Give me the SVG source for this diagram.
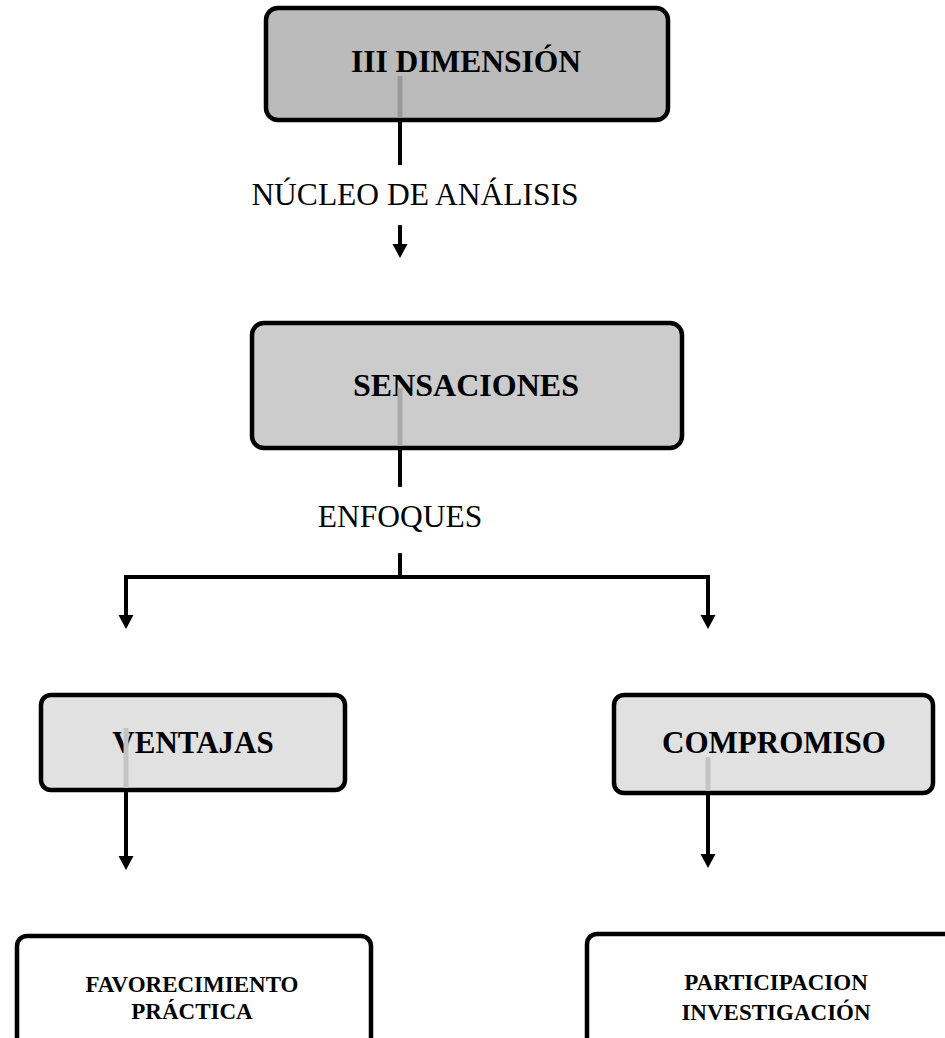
<svg xmlns="http://www.w3.org/2000/svg" width="945" height="1038" viewBox="0 0 945 1038">
  <style>
    .box { stroke: #000; stroke-width: 4.5; }
    .title { font-family: "Liberation Serif", "Times New Roman", serif; font-weight: bold; text-anchor: middle; fill: #000; }
    .label { font-family: "Liberation Serif", "Times New Roman", serif; font-size: 31.5px; fill: #000; text-anchor: middle; }
    .wire { stroke: #000; stroke-width: 4; fill: none; stroke-linejoin: miter; }
    .stub { stroke-width: 5; }
  </style>
  <defs>
    <marker id="head" viewBox="0 -8 14 16" refX="0" refY="0" markerWidth="14" markerHeight="16" markerUnits="userSpaceOnUse" orient="auto">
      <path d="M0,-7.5 L14,0 L0,7.5 z" fill="#000"/>
    </marker>
  </defs>
  <rect width="945" height="1038" fill="#fff"/>

  <!-- top level -->
  <g id="dimension">
    <rect class="box" x="266" y="8" width="402" height="112" rx="12" fill="#bbbbbb" stroke-width="3.5"/>
    <text class="title" x="466" y="72" font-size="31.5">III DIMENSIÓN</text>
    <line class="stub" x1="400" y1="76" x2="400" y2="118" stroke="#999"/>
  </g>

  <g id="sensaciones">
    <rect class="box" x="252" y="323" width="430" height="125" rx="12" fill="#cccccc"/>
    <text class="title" x="466" y="396" font-size="32">SENSACIONES</text>
    <line class="stub" x1="400" y1="388" x2="400" y2="446" stroke="#aaa"/>
  </g>

  <g id="ventajas">
    <rect class="box" x="41" y="695" width="304" height="95" rx="10" fill="#e1e1e1"/>
    <text class="title" x="193" y="753" font-size="31">VENTAJAS</text>
    <line class="stub" x1="126" y1="728" x2="126" y2="788" stroke="#c4c4c4"/>
  </g>

  <g id="compromiso">
    <rect class="box" x="614" y="695" width="319" height="98" rx="10" fill="#e1e1e1"/>
    <text class="title" x="774" y="753" font-size="31">COMPROMISO</text>
    <line class="stub" x1="708" y1="757" x2="708" y2="791" stroke="#c4c4c4"/>
  </g>

  <g id="favorecimiento">
    <rect class="box" x="17" y="936" width="354" height="120" rx="10" fill="#fff"/>
    <text class="title" x="192" y="992" font-size="23">FAVORECIMIENTO</text>
    <text class="title" x="192" y="1019" font-size="23">PRÁCTICA</text>
  </g>

  <g id="participacion">
    <rect class="box" x="587" y="934" width="400" height="122" rx="10" fill="#fff"/>
    <text class="title" x="776" y="990" font-size="23">PARTICIPACION</text>
    <text class="title" x="776" y="1020" font-size="23">INVESTIGACIÓN</text>
  </g>

  <!-- connectors and their labels -->
  <g id="connectors">
    <line class="wire" x1="400" y1="120" x2="400" y2="165"/>
    <text class="label" x="415" y="205">NÚCLEO DE ANÁLISIS</text>
    <line class="wire" x1="400" y1="225" x2="400" y2="244" marker-end="url(#head)"/>

    <line class="wire" x1="400" y1="448" x2="400" y2="487"/>
    <text class="label" x="400" y="527">ENFOQUES</text>
    <path class="wire" d="M400,553 V577"/>
    <path class="wire" d="M400,577 H126 V615" marker-end="url(#head)"/>
    <path class="wire" d="M400,577 H708 V615" marker-end="url(#head)"/>

    <line class="wire" x1="126" y1="790" x2="126" y2="856" marker-end="url(#head)"/>
    <line class="wire" x1="708" y1="793" x2="708" y2="854" marker-end="url(#head)"/>
  </g>
</svg>
